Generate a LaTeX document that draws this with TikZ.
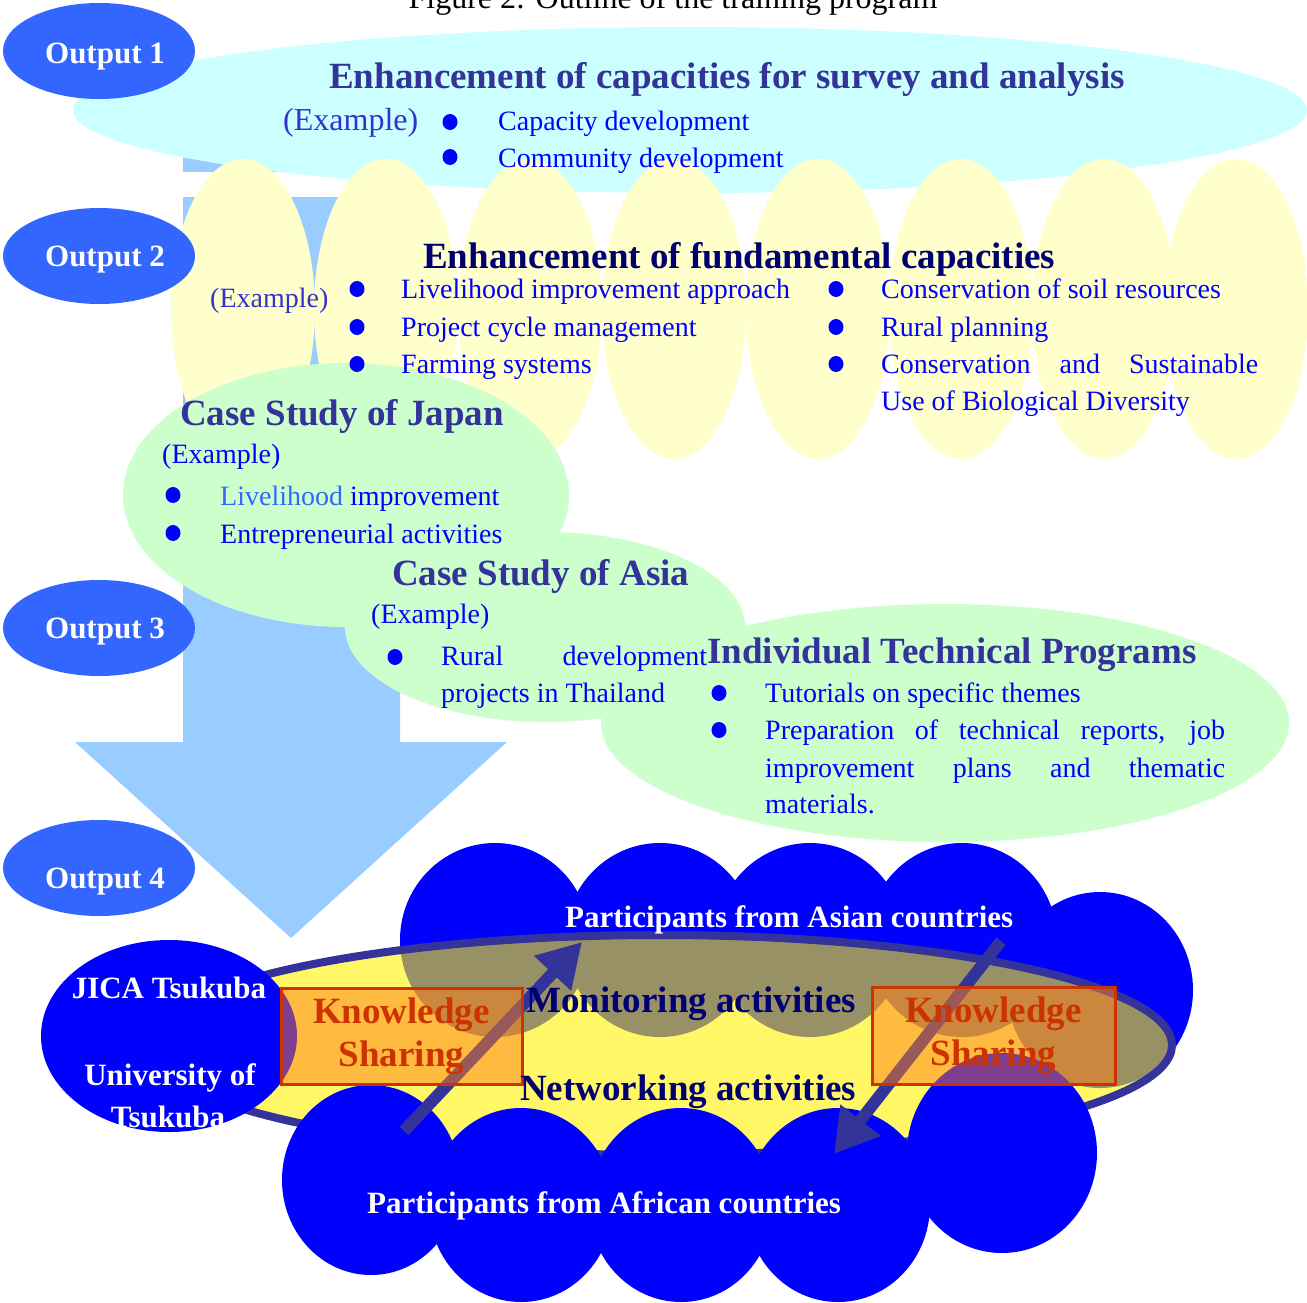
\documentclass[tikz,border=0pt]{standalone}
\usepackage{fontspec}
\setmainfont{Liberation Serif}
\usetikzlibrary{arrows.meta}
\definecolor{outblue}{HTML}{3366FF}
\definecolor{arrowblue}{HTML}{99CCFF}
\definecolor{cyanbg}{HTML}{CCFFFF}
\definecolor{yellowbg}{HTML}{FFFFCC}
\definecolor{greenbg}{HTML}{CCFFCC}
\definecolor{headcol}{HTML}{333399}
\definecolor{navytxt}{HTML}{000070}
\definecolor{itemcol}{HTML}{0000FF}
\definecolor{excol}{HTML}{3333CC}
\definecolor{cloudblue}{HTML}{0000FF}
\definecolor{sharered}{HTML}{CC3300}
\definecolor{shareorange}{HTML}{FF7F1A}
\tikzset{
  outlab/.style={text=white,font=\fontsize{31}{36}\selectfont\bfseries,inner sep=0pt,anchor=base},
  headtxt/.style={text=headcol,font=\fontsize{37}{44}\selectfont\bfseries,inner sep=0pt,anchor=base west},
  itemtxt/.style={text=itemcol,font=\fontsize{28}{34}\selectfont,inner sep=0pt,anchor=base west},
  extxt/.style={itemtxt,text=excol},
  cloudtxt/.style={text=white,font=\fontsize{31}{36}\selectfont\bfseries,inner sep=0pt,anchor=base west},
  acttxt/.style={headtxt,text=navytxt},
  sharebox/.style={draw=sharered,line width=3pt,fill=shareorange,fill opacity=.5,text opacity=1,
    text=sharered,font=\fontsize{37}{43}\selectfont\bfseries,align=center,inner sep=0pt},
  sharearrow/.style={draw=headcol,line width=12pt,-{Triangle[length=43pt,width=48pt]}}
}
\begin{document}
\begin{tikzpicture}[x=1pt,y=-1pt]
  \useasboundingbox (0,0) rectangle (1307,1302);
  \clip (0,0) rectangle (1307,1302);
  \fill[arrowblue] (183,150) -- (400,150) -- (400,742) -- (507,742) -- (291,938) -- (75,742) -- (183,742) -- cycle;
  \fill[white] (180,172) rectangle (402,197);
  \fill[cyanbg] (690,110) ellipse (617 and 83);
  \foreach \cx in {243,386,530,674,818,961,1104,1236}
    \fill[yellowbg] (\cx,309) ellipse (72 and 150);
  \fill[greenbg] (346,495) ellipse (223 and 132);
  \fill[greenbg] (545,627) ellipse (200 and 95);
  \fill[greenbg] (945,723) ellipse (344 and 119);
  \foreach \i/\cy/\by in {1/51/63,2/256/266,3/628/638,4/868/888} {
    \fill[outblue] (99,\cy) ellipse (96 and 48);
    \node[outlab] (out\i) at (105,\by) {Output \i};
  }
  \node[font=\fontsize{32}{38}\selectfont,anchor=base,inner sep=0pt] (title) at (673,8) {Figure 2: Outline of the training program};
  \node[headtxt] (survey) at (329,88) {Enhancement of capacities for survey and analysis};
  \node[extxt,font=\fontsize{32}{38}\selectfont] (ex1) at (283,130) {(Example)};
  \node[itemtxt] (cap) at (498,130) {Capacity development};
  \node[itemtxt] (comm) at (498,167) {Community development};
  \node[acttxt] (fund) at (423,268) {Enhancement of fundamental capacities};
  \node[extxt] (ex2) at (210,307) {(Example)};
  \node[itemtxt] (live) at (401,298) {Livelihood improvement approach};
  \node[itemtxt] (pcm) at (401,336) {Project cycle management};
  \node[itemtxt] (farm) at (401,373) {Farming systems};
  \node[itemtxt] (soil) at (881,298) {Conservation of soil resources};
  \node[itemtxt] (rural) at (881,336) {Rural planning};
  \node[itemtxt] (cons) at (881,373) {\makebox[377pt][s]{Conservation and Sustainable}};
  \node[itemtxt] (bio) at (881,410) {Use of Biological Diversity};
  \node[headtxt] (japan) at (180,425) {Case Study of Japan};
  \node[itemtxt] (ex3) at (162,463) {(Example)};
  \node[itemtxt] (jp1) at (220,505) {\textcolor{outblue}{Livelihood} improvement};
  \node[itemtxt] (jp2) at (220,543) {Entrepreneurial activities};
  \node[headtxt] (asia) at (392,585) {Case Study of Asia};
  \node[itemtxt] (ex4) at (371,623) {(Example)};
  \node[itemtxt] (as1) at (441,665) {\makebox[266pt][s]{Rural development}};
  \node[itemtxt] (as2) at (441,702) {projects in Thailand};
  \node[headtxt] (indiv) at (707,663) {Individual Technical Programs};
  \node[itemtxt] (tut) at (765,702) {Tutorials on specific themes};
  \node[itemtxt] (prep) at (765,739) {\makebox[460pt][s]{Preparation of technical reports, job}};
  \node[itemtxt] (impr) at (765,777) {\makebox[460pt][s]{improvement plans and thematic}};
  \node[itemtxt] (mat) at (765,813) {materials.};
  \foreach \bx/\by in {450/122,450/157,357/289,357/327,357/364,836/289,836/327,836/364,
                       173/495,173/533,395/657,719/693,719/730}
    \fill[itemcol] (\bx,\by) ellipse (7.5 and 8);
  \foreach \cx/\cy/\rx/\ry in {495/940/95/97,660/940/95/97,810/940/95/97,962/940/95/97,1100/990/93/98}
    \fill[cloudblue] (\cx,\cy) ellipse [x radius=\rx, y radius=\ry];
  \fill[yellow,fill opacity=.6] (660,1045) ellipse (512 and 110);
  \draw[headcol,line width=8pt] (660,1045) ellipse (512 and 110);
  \fill[cloudblue] (169,1036) ellipse (128 and 96);
  \foreach \cx/\cy/\rx/\ry in {371/1180/89/95,521/1205/92/97,681/1205/92/97,838/1205/92/97,1002/1153/95/100}
    \fill[cloudblue] (\cx,\cy) ellipse [x radius=\rx, y radius=\ry];
  \coordinate (afTail) at (404,1131);
  \coordinate (asTip) at (582,942);
  \coordinate (asTail) at (1001,941);
  \coordinate (afTip) at (834,1154);
  \draw[sharearrow] (afTail) -- (asTip);
  \draw[sharearrow] (asTail) -- (afTip);
  \node[sharebox,minimum width=241pt,minimum height=96pt] (shareL) at (401.5,1036) {Knowledge\\Sharing};
  \node[sharebox,minimum width=243pt,minimum height=97pt] (shareR) at (993.5,1035.5) {Knowledge\\Sharing};
  \node[cloudtxt] (asian) at (565,927) {Participants from Asian countries};
  \node[cloudtxt] (african) at (367,1213) {Participants from African countries};
  \node[acttxt] (monitor) at (526,1012) {Monitoring activities};
  \node[acttxt] (network) at (520,1100) {Networking activities};
  \node[outlab] (jica) at (169,998) {JICA Tsukuba};
  \node[outlab] (univ) at (170,1085) {University of};
  \node[outlab] (tsukuba) at (168,1127) {Tsukuba};
\end{tikzpicture}
\end{document}
